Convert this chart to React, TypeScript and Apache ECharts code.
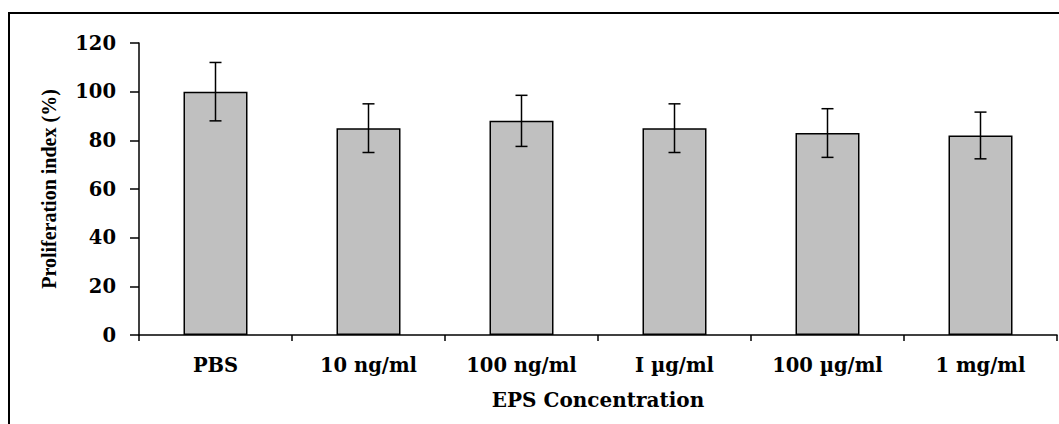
import React, { useEffect, useRef } from "react";
import * as echarts from "echarts";

const categories = ["PBS", "10 ng/ml", "100 ng/ml", "I µg/ml", "100 µg/ml", "1 mg/ml"];
const means = [100, 85, 88, 85, 83, 82];
const errors = [12, 10, 10.5, 10, 10, 9.6];
const yTicks = { min: 0, max: 120, interval: 20 };

const FONT = "'Liberation Serif', 'Times New Roman', serif";
const WIDE = "'DejaVu Serif', 'Liberation Serif', serif";

export default function App() {
  const ref = useRef<HTMLDivElement>(null);
  useEffect(() => {
    if (!ref.current) return;
    const chart = echarts.init(ref.current, null, { renderer: "svg" });
    const errData = means.map((m, i) => [i, m - errors[i], m + errors[i]]);
    chart.setOption({
      animation: false,
      backgroundColor: "#ffffff",
      grid: { left: 139, top: 43, right: 2, bottom: 89, containLabel: false },
      graphic: [
        {
          type: "rect",
          shape: { x: 9, y: 13, width: 1200, height: 600 },
          style: { fill: "none", stroke: "#000", lineWidth: 2 },
          silent: true,
        },
      ],
      xAxis: {
        type: "category",
        data: categories,
        name: "EPS Concentration",
        nameLocation: "middle",
        nameGap: 55,
        nameTextStyle: { fontFamily: WIDE, fontWeight: "bold", fontSize: 20, color: "#000", verticalAlign: "top" },
        axisLine: { lineStyle: { color: "#000", width: 1.5 } },
        axisTick: { show: true, length: 6, lineStyle: { color: "#000", width: 1.5 } },
        axisLabel: { fontFamily: WIDE, fontWeight: "bold", fontSize: 19.5, color: "#000", margin: 20 },
      },
      yAxis: {
        type: "value",
        min: yTicks.min,
        max: yTicks.max,
        interval: yTicks.interval,
        name: "Proliferation index (%)",
        nameLocation: "middle",
        nameGap: 80,
        nameTextStyle: { fontFamily: FONT, fontWeight: "bold", fontSize: 20, color: "#000" },
        splitLine: { show: false },
        axisLine: { show: true, lineStyle: { color: "#000", width: 1.5 } },
        axisTick: { show: true, length: 9, lineStyle: { color: "#000", width: 1.5 } },
        axisLabel: { fontFamily: WIDE, fontWeight: "bold", fontSize: 19.5, color: "#000", margin: 23 },
      },
      series: [
        {
          type: "bar",
          data: means,
          barWidth: 64,
          itemStyle: { color: "#c0c0c0", borderColor: "#000", borderWidth: 1.5 },
        },
        {
          type: "custom",
          data: errData,
          z: 10,
          renderItem: (params: any, api: any) => {
            const x = api.value(0);
            const lo = api.coord([x, api.value(1)]);
            const hi = api.coord([x, api.value(2)]);
            const hw = 6;
            const style = { stroke: "#000", lineWidth: 1.5 };
            return {
              type: "group",
              children: [
                { type: "line", shape: { x1: hi[0], y1: hi[1], x2: lo[0], y2: lo[1] }, style },
                { type: "line", shape: { x1: hi[0] - hw, y1: hi[1], x2: hi[0] + hw, y2: hi[1] }, style },
                { type: "line", shape: { x1: lo[0] - hw, y1: lo[1], x2: lo[0] + hw, y2: lo[1] }, style },
              ],
            };
          },
        },
      ],
    });
    return () => chart.dispose();
  }, []);
  return (
    <div
      ref={ref}
      style={{ position: "absolute", left: 0, top: 0, width: 1059, height: 424 }}
    />
  );
}
